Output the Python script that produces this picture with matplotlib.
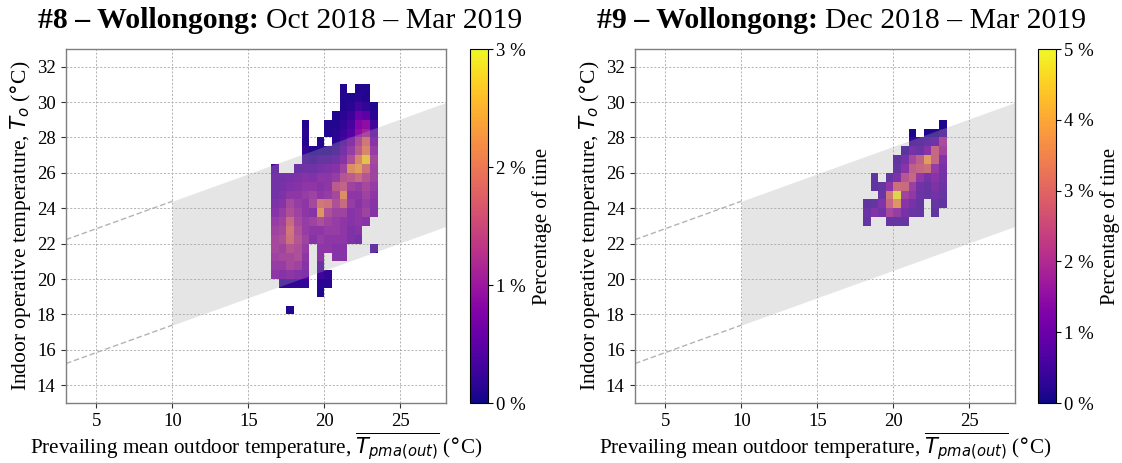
import numpy as np
import matplotlib
matplotlib.use("Agg")
import matplotlib.pyplot as plt
from matplotlib.colors import Normalize

# ---------------- data ----------------
# Panel 1 (#8): percentage of time, rows from top (30.5-31 degC) to bottom (18-18.5 degC)
p1_x_edges_start, p1_x_edges_stop = 16.5, 23.5
p1_y_edges_start, p1_y_edges_stop = 18.0, 31.0
p1_pct = [
    [0, 0, 0, 0, 0, 0, 0, 0, 0, .1, 0, .1, .1, 0],
    [0, 0, 0, 0, 0, 0, 0, 0, 0, .1, .1, .15, .1, 0],
    [0, 0, 0, 0, 0, 0, 0, 0, 0, .1, .15, .3, .2, .1],
    [0, 0, 0, 0, 0, 0, 0, 0, .1, .15, .25, .6, .5, .15],
    [0, 0, 0, 0, .1, 0, 0, .1, .1, .2, .35, .8, .9, .3],
    [0, 0, 0, 0, .15, 0, 0, .1, .15, .25, .45, .9, 1.1, .5],
    [0, 0, 0, 0, .1, 0, .1, 0, .15, .35, .7, 1.2, 1.8, .7],
    [0, 0, 0, 0, .2, .1, .15, .15, .25, .55, .9, 1.4, 2.0, .9],
    [0, 0, 0, 0, .3, .25, .35, .35, .45, .7, 1.2, 2.0, 2.7, 1.1],
    [.4, 0, 0, .4, .45, .45, .55, .6, .7, 1.0, 2.1, 2.3, 1.7, 1.0],
    [.5, .5, .55, .6, .7, .65, .8, .75, .9, 1.3, 1.4, 1.6, 1.3, 1.0],
    [.5, .55, .65, .7, .8, .8, .7, .8, 1.4, 1.5, 1.0, .9, 1.1, .9],
    [.5, .6, .8, .8, .9, 1.0, .8, .9, 1.1, 2.1, .8, .8, 1.0, .8],
    [.6, .7, 1.1, .9, .8, 1.1, 1.8, 1.7, 1.2, 1.6, .9, .7, .9, .7],
    [.7, .9, 1.2, 1.0, .8, .7, 2.2, 1.2, 1.0, 1.0, .7, .8, 1.0, .7],
    [.9, 1.0, 1.6, 1.1, .9, 1.0, 1.2, 1.0, .9, .8, .7, .8, .7, 0],
    [1.0, 1.1, 1.8, 1.2, .9, .8, .8, .9, .9, .8, .6, .7, 0, 0],
    [1.1, 1.2, 1.7, 1.3, 1.0, .7, .9, .8, .8, .8, .6, .5, 0, 0],
    [1.1, 1.0, 1.3, 1.2, .9, 0, .8, .8, .7, .7, 0, 0, 0, .3],
    [1.0, 1.1, 1.1, 1.2, .8, 0, .8, 0, .7, .7, 0, 0, 0, 0],
    [.9, .9, 1.1, 1.0, .7, 0, .4, 0, 0, 0, 0, 0, 0, 0],
    [.8, .7, .8, .7, .6, 0, .3, .2, 0, 0, 0, 0, 0, 0],
    [0, .2, .2, .2, .2, 0, .15, .15, 0, 0, 0, 0, 0, 0],
    [0, 0, 0, 0, 0, 0, .1, 0, 0, 0, 0, 0, 0, 0],
    [0, 0, 0, 0, 0, 0, 0, 0, 0, 0, 0, 0, 0, 0],
    [0, 0, .1, 0, 0, 0, 0, 0, 0, 0, 0, 0, 0, 0],
]
p1_vmax = 3

# Panel 2 (#9): rows from top (28.5-29 degC) to bottom (23-23.5 degC)
p2_x_edges_start, p2_x_edges_stop = 18.0, 23.5
p2_y_edges_start, p2_y_edges_stop = 23.0, 29.0
p2_pct = [
    [0, 0, 0, 0, 0, 0, 0, 0, 0, 0, .1],
    [0, 0, 0, 0, 0, 0, .1, 0, .15, .2, .5],
    [0, 0, 0, 0, 0, 0, .4, .5, .6, .8, 1.9],
    [0, 0, 0, 0, 0, .4, .9, .7, 1.2, 2.6, 1.7],
    [0, 0, 0, 0, .5, .9, 1.8, 2.4, 3.8, 2.6, 1.1],
    [0, 0, 0, 0, .6, 1.2, 2.4, 2.6, 2.8, 1.5, .9],
    [0, .5, 0, .6, 1.0, 2.2, 2.6, 1.4, .9, 1.2, .8],
    [0, .5, .6, 1.3, 2.8, 2.7, 1.6, .8, .6, 1.0, .7],
    [0, 0, .7, 3.0, 4.8, 1.7, 1.4, .7, .6, .8, .6],
    [.5, .6, 1.1, 2.6, 3.6, 1.2, .9, .6, 0, .6, .5],
    [.7, 1.1, .8, 1.8, 1.5, .9, .7, .6, 0, .5, 0],
    [.6, 0, 0, .6, .6, .6, 0, 0, 0, 0, 0],
]
p2_vmax = 5

titles_bold = ["#8 \u2013 Wollongong:", "#9 \u2013 Wollongong:"]
titles_norm = ["Oct 2018 \u2013 Mar 2019", "Dec 2018 \u2013 Mar 2019"]

# ASHRAE-55 adaptive model (80 % acceptability)
slope, intercept, half_width = 0.31, 17.8, 3.5
t_out_min_valid, x_lo, x_hi = 10.0, 3.0, 28.0
y_lo, y_hi = 13.0, 33.0

# ---------------- style ----------------
serif = "Liberation Serif"
plt.rcParams["font.family"] = [serif, "DejaVu Sans"]
plt.rcParams["mathtext.fontset"] = "dejavusans"

W, H = 1122, 463
fig = plt.figure(figsize=(W / 100, H / 100), dpi=100)


def px_axes(l, r, t, b):
    return [l / W, 1 - b / H, (r - l) / W, (b - t) / H]


ax_boxes = [px_axes(66, 446, 49, 403), px_axes(635, 1015, 49, 403)]
cb_boxes = [px_axes(470, 488, 49, 403), px_axes(1038, 1056, 49, 403)]

panels = [
    (p1_pct, p1_x_edges_start, p1_x_edges_stop, p1_y_edges_start, p1_y_edges_stop, p1_vmax),
    (p2_pct, p2_x_edges_start, p2_x_edges_stop, p2_y_edges_start, p2_y_edges_stop, p2_vmax),
]

for i, (pct, xs, xe, ys, ye, vmax) in enumerate(panels):
    ax = fig.add_axes(ax_boxes[i])
    cax = fig.add_axes(cb_boxes[i])
    ax.set_axisbelow(True)
    ax.grid(True, color="#a8a8a8", lw=0.6, ls=(0, (2.5, 2)), zorder=0)

    z = np.flipud(np.array(pct, dtype=float))
    zm = np.ma.masked_where(z <= 0, z)
    xe_ = np.arange(xs, xe + 0.25, 0.5)
    ye_ = np.arange(ys, ye + 0.25, 0.5)
    norm = Normalize(0, vmax)
    mesh = ax.pcolormesh(xe_, ye_, zm, cmap="plasma", norm=norm, zorder=1)

    xb = np.array([t_out_min_valid, x_hi])
    ax.fill_between(xb, slope * xb + intercept - half_width,
                    slope * xb + intercept + half_width,
                    color="#a9a9a9", alpha=0.3, lw=0, zorder=2)
    xd = np.array([x_lo, t_out_min_valid])
    for s in (-1, 1):
        ax.plot(xd, slope * xd + intercept + s * half_width, color="#b4b4b4",
                lw=1.0, ls=(0, (4, 2)), zorder=2)

    ax.set_xlim(x_lo, x_hi)
    ax.set_ylim(y_lo, y_hi)
    ax.set_xticks([5, 10, 15, 20, 25])
    ax.set_yticks(np.arange(14, 33, 2))
    ax.tick_params(labelsize=13.5, length=3.5, width=0.8, pad=4, color="#333333")
    for sp in ax.spines.values():
        sp.set_color("#7f7f7f")
        sp.set_linewidth(1.0)
    ax.set_xlabel(r"Prevailing mean outdoor temperature, $\overline{T_{pma(out)}}$ ($\degree$C)",
                  fontsize=15.2, labelpad=0)
    ax.set_ylabel(r"Indoor operative temperature, $T_o$ ($\degree$C)", fontsize=15.5, labelpad=3)

    cb = fig.colorbar(mesh, cax=cax)
    cb.set_ticks(np.arange(0, vmax + 1, 1))
    cb.set_ticklabels([f"{v} %" for v in range(0, vmax + 1)])
    cb.ax.tick_params(labelsize=13.5, length=3.5, width=0.8, pad=2)
    cb.outline.set_linewidth(0.8)
    cb.set_label("Percentage of time", fontsize=15, labelpad=5)

# titles with bold prefix
fig.canvas.draw()
r = fig.canvas.get_renderer()
fs_title = 21.4
for i in range(2):
    xc = (0.25 if i == 0 else 0.75) * W
    yb = 1 - 28.5 / H
    t1 = fig.text(0, yb, titles_bold[i], fontsize=fs_title, weight="bold", va="baseline")
    t2 = fig.text(0, yb, titles_norm[i], fontsize=fs_title, va="baseline")
    w1 = t1.get_window_extent(r).width
    w2 = t2.get_window_extent(r).width
    gap = fs_title * 100 / 72 * 0.25
    x0 = xc - (w1 + gap + w2) / 2
    t1.set_x(x0 / W)
    t2.set_x((x0 + w1 + gap) / W)

fig.savefig("out.png", dpi=100)
